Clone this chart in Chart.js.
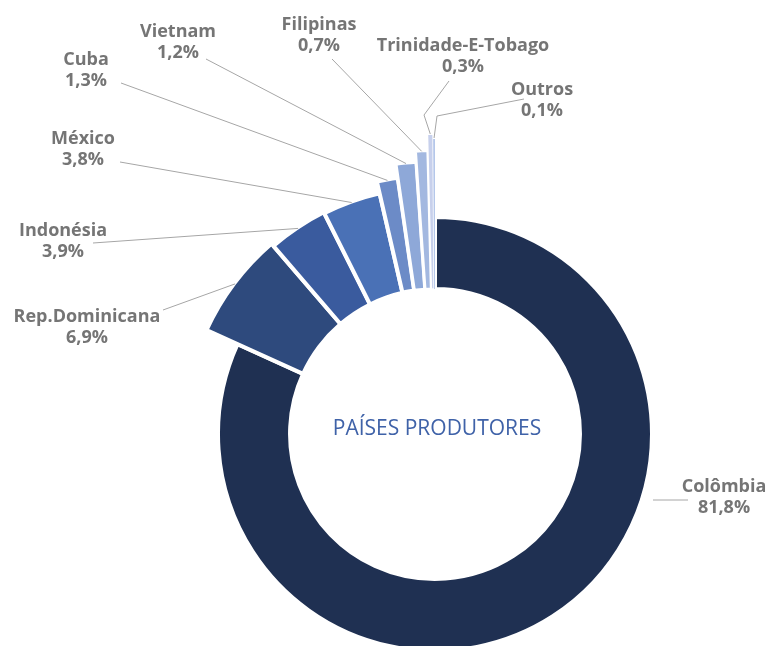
<!DOCTYPE html>
<html lang="pt">
<head>
<meta charset="utf-8">
<title>Países produtores</title>
<script src="https://cdn.jsdelivr.net/npm/chart.js@4.4.1/dist/chart.umd.min.js"></script>
<style>
  html, body { margin: 0; padding: 0; background: #ffffff; }
  .chart-box { position: relative; width: 768px; height: 646px; }
</style>
</head>
<body>
<div class="chart-box"><canvas id="chart-paises"></canvas></div>
<script>
// ── Dados ──────────────────────────────────────────────────────
const paises       = ['Colômbia', 'Rep.Dominicana', 'Indonésia', 'México', 'Cuba',
                      'Vietnam', 'Filipinas', 'Trinidade-E-Tobago', 'Outros'];
const participacao = [81.8, 6.9, 3.9, 3.8, 1.3, 1.2, 0.7, 0.3, 0.1];
const tituloCentro = 'PAÍSES PRODUTORES';

// ── Estilo / layout ────────────────────────────────────────────
const cores   = ['#1F3052', '#2E4A7D', '#3A5B9E', '#4A71B6', '#6C8BC7',
                 '#8EA8D8', '#A3B8E0', '#C7D0EC', '#B5C7EA'];
const bordas  = [4, 4, 4, 4, 4, 3.5, 3, 1.5, 0];
// alcance visível de cada fatia (raio externo, px)
const alcance = [215, 249, 246, 245, 257, 271, 282, 299, 295];

// posição dos rótulos: centro do texto, baseline da 1ª linha, início da linha guia
const rotulos = [
  { cx: 724, y: 491.5, from: [688, 500], to: [653, 500] },
  { cx: 87,  y: 321.5, from: [163, 310] },
  { cx: 63,  y: 236,   from: [93, 243] },
  { cx: 83,  y: 143.5, from: [120, 162] },
  { cx: 86,  y: 65,    from: [121, 83] },
  { cx: 178, y: 36.5,  from: [206, 59] },
  { cx: 319, y: 29.5,  from: [332, 59] },
  { cx: 463, y: 50.5,  from: [449, 81], via: [424, 115] },
  { cx: 542, y: 94.5,  from: [524, 99], via: [437, 116] },
];

const FONTE = "'Open Sans', 'Noto Sans', sans-serif";

const pct = (v) => v.toFixed(1).replace('.', ',') + '%';

// estica cada fatia até o seu alcance
const alcancePlugin = {
  id: 'alcance',
  afterDatasetUpdate(chart, args) {
    args.meta.data.forEach((arc, i) => {
      arc.outerRadius = alcance[i] + bordas[i] / 2;
    });
  },
};

// rótulos, linhas guia e título central
const rotuloPlugin = {
  id: 'rotulos',
  afterDatasetsDraw(chart) {
    const { ctx } = chart;
    const arcs = chart.getDatasetMeta(0).data;
    ctx.save();

    ctx.strokeStyle = '#A6A6A6';
    ctx.lineWidth   = 1;
    arcs.forEach((arc, i) => {
      const r   = rotulos[i];
      const mid = (arc.startAngle + arc.endAngle) / 2;
      const to  = r.to || [arc.x + Math.cos(mid) * (alcance[i] + 1),
                           arc.y + Math.sin(mid) * (alcance[i] + 1)];
      ctx.beginPath();
      ctx.moveTo(r.from[0], r.from[1]);
      if (r.via) ctx.lineTo(r.via[0], r.via[1]);
      ctx.lineTo(to[0], to[1]);
      ctx.stroke();
    });

    ctx.fillStyle    = '#757575';
    ctx.font         = `bold 18px ${FONTE}`;
    ctx.textAlign    = 'center';
    ctx.textBaseline = 'alphabetic';
    rotulos.forEach((r, i) => {
      ctx.fillText(paises[i], r.cx, r.y);
      ctx.fillText(pct(participacao[i]), r.cx, r.y + 21.3);
    });

    const c = arcs[0];
    ctx.fillStyle = '#3F62A8';
    ctx.font      = `21px ${FONTE}`;
    ctx.fillText(tituloCentro, c.x + 2, 435);
    ctx.restore();
  },
};

new Chart(document.getElementById('chart-paises'), {
  type: 'doughnut',
  data: {
    labels: paises,
    datasets: [{
      data:            participacao,
      backgroundColor: cores,
      borderColor:     '#ffffff',
      borderWidth:     bordas,
    }],
  },
  options: {
    responsive:          true,
    maintainAspectRatio: false,
    animation:           false,
    radius:              217,
    cutout:              '66.8%',
    layout: { padding: { left: 102, right: 0, top: 222, bottom: 0 } },
    plugins: {
      legend:  { display: false },
      tooltip: { enabled: false },
    },
  },
  plugins: [alcancePlugin, rotuloPlugin],
});
</script>
</body>
</html>
